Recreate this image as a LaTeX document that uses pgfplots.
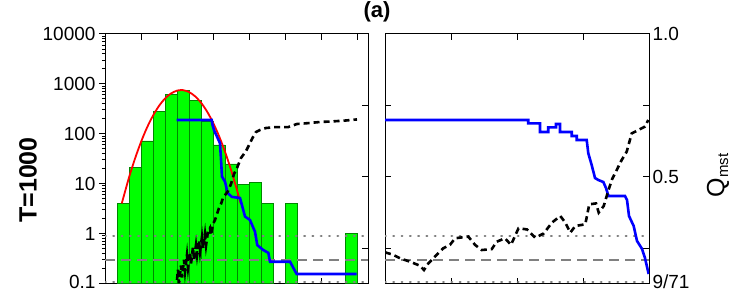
\documentclass[border=0pt]{standalone}
\usepackage{pgfplots}
\pgfplotsset{compat=1.18}
\usepackage{fontspec}
\setmainfont{Liberation Sans}
\definecolor{barfill}{RGB}{0,255,0}
\definecolor{baredge}{RGB}{0,135,0}
\definecolor{refgray}{RGB}{128,128,128}
\definecolor{qblue}{RGB}{0,0,255}
\definecolor{qred}{RGB}{255,0,0}
\pgfplotsset{
  panel/.style={
    scale only axis, anchor=south west, height=249.5pt,
    axis line style={line width=1pt},
    every tick/.style={black, line width=1pt},
    major tick length=6pt, minor tick length=3pt,
    tick label style={font=\fontsize{19}{21}\selectfont},
    /pgf/number format/assume math mode=true,
  },
  dotg/.style={refgray, line width=2.2pt, line cap=round, dash pattern=on 0.8pt off 7.5pt},
  dashg/.style={refgray, line width=1.8pt, dash pattern=on 10pt off 6pt},
  blk/.style={black, line width=2.6pt, dash pattern=on 6pt off 4pt},
  blu/.style={qblue, line width=2.6pt},
}
\begin{document}
\begin{tikzpicture}
\useasboundingbox (0,0) rectangle (744pt,292pt);
% ---------------- left panel, log axis -----------------
\begin{axis}[panel, at={(105pt,8.5pt)}, width=263pt,
  ymode=log, ymin=0.1, ymax=10000, log origin y=infty,
  xmin=0, xmax=21.9167,
  xtick={3,6,9,12,15,18,21}, xticklabels={}, xtick pos=both, xtick align=inside,
  ytick={0.1,1,10,100,1000,10000}, yticklabels={\raisebox{3pt}{0.1},1,10,100,1000,10000},
  ytick pos=left, ytick align=outside]
\addplot[ybar, bar width=1, fill=barfill, draw=baredge, line width=0.6pt] coordinates {
 (1.5,4) (2.5,21) (3.5,72) (4.5,280) (5.5,620) (6.5,750) (7.5,460) (8.5,180)
 (9.5,60) (10.5,25) (11.5,9.8) (12.5,10.8) (13.5,4) (15.5,4) (20.5,1)};
\addplot[qred, line width=1.8pt, smooth] coordinates {
 (1.4,4.04) (2,13.3) (2.5,31.8) (3,68.5) (3.5,133) (4,231) (4.5,362) (5,509)
 (5.5,644) (6,733) (6.35,752) (6.5,750) (7,687) (7.5,566) (8,421) (8.5,281)
 (9,168) (9.5,90.4) (10,43.8) (10.5,19.0) (11,7.45) (11.3,4.03)};
\end{axis}
% ---------------- left panel, Q axis -----------------
\begin{axis}[panel, at={(105pt,8.5pt)}, width=263pt,
  xmin=0, xmax=21.9167, ymin=0.126760563, ymax=1,
  hide x axis, ytick={0.25,0.5,0.75}, yticklabels={}, ytick pos=right, ytick align=inside]
\addplot[dotg] coordinates {(0,0.293) (21.9167,0.293)};
\addplot[dashg] coordinates {(0,0.209) (21.9167,0.209)};
\addplot[dotg] coordinates {(0,0.131) (21.9167,0.131)};
\addplot[blu] coordinates {
 (5.975,0.699) (8.89,0.699) (8.96,0.682) (9.08,0.664) (9.58,0.618) (9.67,0.559)
 (9.75,0.501) (10.0,0.483) (10.22,0.444) (10.56,0.430) (11.25,0.426) (11.67,0.361)
 (12.08,0.349) (12.5,0.308) (12.69,0.261) (13.19,0.244) (13.61,0.234) (13.75,0.203)
 (15.42,0.203) (15.97,0.160) (20.97,0.160)};
\addplot[blk] coordinates {
 (6.0,0.139) (6.08,0.175) (6.17,0.128) (6.33,0.190) (6.42,0.148) (6.58,0.210)
 (6.67,0.168) (6.83,0.226) (6.92,0.182) (7.08,0.236) (7.17,0.196) (7.33,0.254)
 (7.42,0.210) (7.58,0.261) (7.67,0.226) (7.83,0.278) (7.92,0.238) (8.08,0.289)
 (8.17,0.250) (8.33,0.300) (8.42,0.260) (8.58,0.308) (8.75,0.321) (8.83,0.296)
 (9.0,0.335) (9.17,0.349) (9.33,0.370) (9.5,0.391) (9.67,0.405) (9.83,0.426)
 (10.0,0.436) (10.25,0.450) (10.5,0.475) (10.75,0.510) (11.0,0.531) (11.33,0.566)
 (11.75,0.590) (12.08,0.618) (12.33,0.639) (12.58,0.657) (12.92,0.664) (13.42,0.671)
 (14.17,0.674) (15.25,0.674) (16.0,0.685) (16.92,0.688) (17.92,0.692) (18.92,0.694)
 (20.0,0.697) (21.0,0.701)};
\end{axis}
% ---------------- right panel -----------------
\begin{axis}[panel, at={(385pt,8.5pt)}, width=264pt,
  xmin=0, xmax=4, ymin=0.126760563, ymax=1,
  xtick={1,2,3}, xticklabels={}, xtick pos=both, xtick align=inside,
  ytick={0.126760563,0.25,0.5,0.75,1}, yticklabels={\raisebox{3pt}{9/71},,0.5,,1.0},
  ytick pos=both, yticklabel pos=right, ytick align=inside]
\addplot[dotg] coordinates {(0,0.293) (4,0.293)};
\addplot[dashg] coordinates {(0,0.209) (4,0.209)};
\addplot[dotg] coordinates {(0,0.131) (4,0.131)};
\addplot[blu] coordinates {
 (0,0.699) (2.171,0.699) (2.171,0.687) (2.348,0.687) (2.348,0.657) (2.474,0.657)
 (2.474,0.673) (2.591,0.673) (2.591,0.685) (2.652,0.685) (2.652,0.657) (2.829,0.657)
 (2.829,0.643) (2.905,0.643) (2.905,0.629) (3.056,0.629) (3.08,0.583) (3.132,0.541)
 (3.182,0.496) (3.232,0.489) (3.308,0.482) (3.348,0.461) (3.386,0.433) (3.636,0.433)
 (3.667,0.419) (3.697,0.363) (3.768,0.328) (3.818,0.276) (3.894,0.248) (3.939,0.216)
 (3.995,0.160)};
\addplot[blk] coordinates {
 (0,0.236) (0.126,0.227) (0.227,0.215) (0.379,0.203) (0.530,0.189) (0.591,0.174)
 (0.656,0.197) (0.783,0.227) (0.883,0.250) (0.985,0.262) (1.061,0.285) (1.262,0.291)
 (1.364,0.262) (1.465,0.244) (1.617,0.247) (1.692,0.273) (1.818,0.285) (1.909,0.262)
 (2.023,0.320) (2.152,0.316) (2.277,0.287) (2.405,0.302) (2.530,0.340) (2.656,0.363)
 (2.732,0.340) (2.808,0.305) (2.883,0.328) (3.035,0.334) (3.095,0.404) (3.197,0.407)
 (3.238,0.375) (3.314,0.398) (3.389,0.456) (3.439,0.491) (3.515,0.526) (3.586,0.559)
 (3.662,0.588) (3.738,0.652) (3.838,0.664) (3.939,0.676) (3.989,0.699)};
\end{axis}
% ---------------- texts -----------------
\node[font=\bfseries\fontsize{22}{24}\selectfont] at (377pt,280pt) {(a)};
\node[rotate=90, font=\bfseries\fontsize{25}{28}\selectfont] at (28pt,112pt) {T=1000};
\node[rotate=90, font=\fontsize{25}{27}\selectfont] at (718pt,117pt) {Q\textsubscript{\fontsize{15}{16}\selectfont mst}};
\end{tikzpicture}
\end{document}
